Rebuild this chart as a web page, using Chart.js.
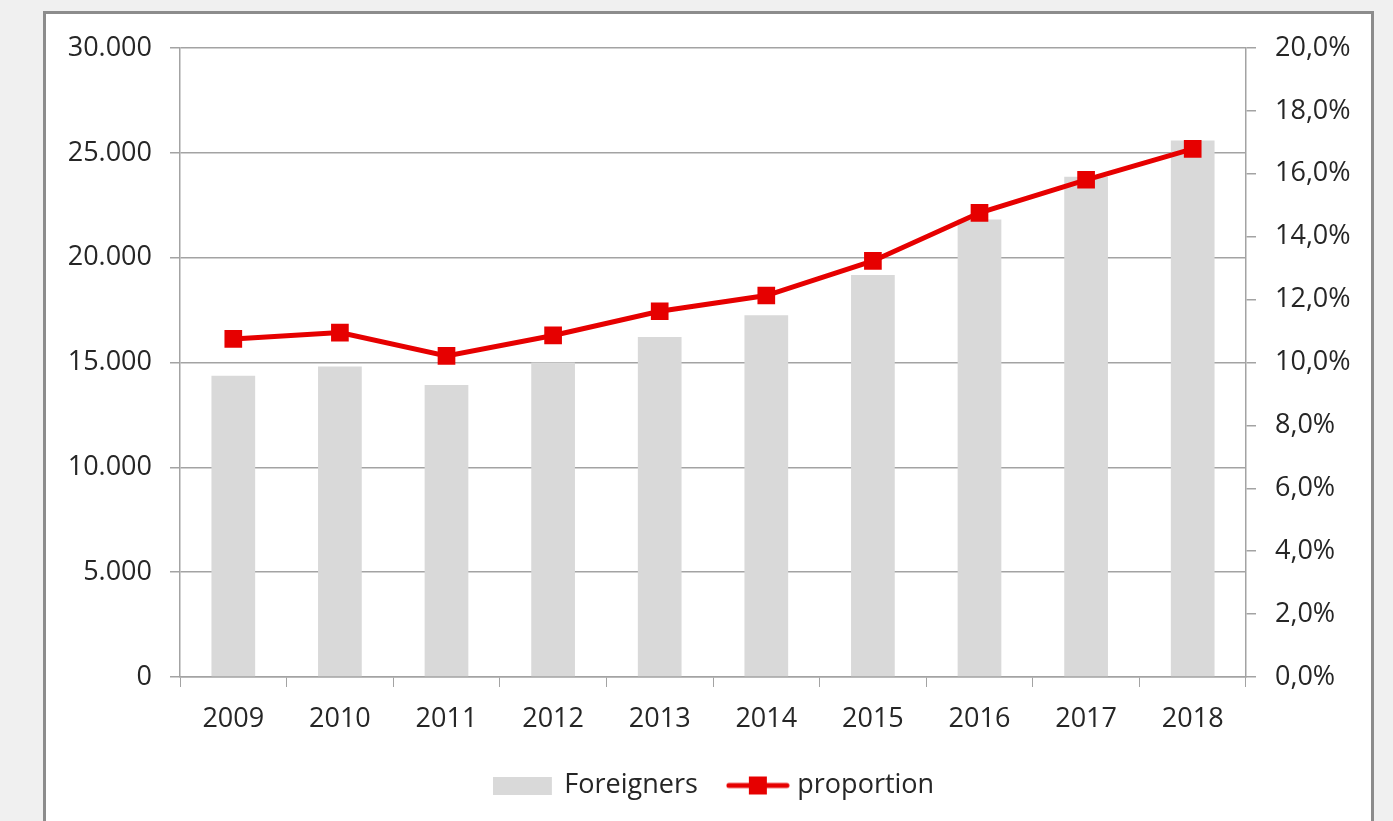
<!DOCTYPE html>
<html>
<head>
<meta charset="utf-8">
<script src="https://cdn.jsdelivr.net/npm/chart.js@4"></script>
<style>
    html, body { margin: 0; padding: 0; background: #f0f0f0; overflow: hidden; }
    #frame {
        position: absolute; left: 43px; top: 11px;
        width: 1325px; height: 840px;
        border: 3px solid #8c8c8c; background: #ffffff;
    }
    #chart-wrap { position: absolute; left: 0; top: 0; width: 1393px; height: 821px; }
</style>
</head>
<body>
<div id="frame"></div>
<div id="chart-wrap"><canvas id="foreigners-chart"></canvas></div>
<script>
const years = ["2009", "2010", "2011", "2012", "2013", "2014", "2015", "2016", "2017", "2018"];
const foreigners = [14370, 14810, 13930, 15000, 16220, 17250, 19170, 21820, 23860, 25590];
const proportion = [10.75, 10.95, 10.21, 10.86, 11.63, 12.13, 13.23, 14.76, 15.81, 16.79];   // percent

const grid_grey = "#a3a3a3";
const text_dark = "#262626";
const bar_grey = "#d9d9d9";
const line_red = "#e60000";

// small legend pictures, so the legend looks like the Excel one
function legendBox() {
    const c = document.createElement("canvas");
    c.width = 64; c.height = 18;
    const g = c.getContext("2d");
    g.fillStyle = bar_grey;
    g.fillRect(0, 0, 59, 18);
    return c;
}
function legendLine() {
    const c = document.createElement("canvas");
    c.width = 64; c.height = 20;
    const g = c.getContext("2d");
    g.strokeStyle = line_red;
    g.lineWidth = 5;
    g.lineCap = "round";
    g.beginPath(); g.moveTo(3, 10); g.lineTo(61, 10); g.stroke();
    g.fillStyle = line_red;
    g.fillRect(23, 1, 18, 18);
    return c;
}
const legend_pics = [legendBox(), legendLine()];

const config = {
    data: {
        labels: years,
        datasets: [
            {
                type: "bar",
                label: "Foreigners",
                data: foreigners,
                backgroundColor: bar_grey,
                barPercentage: 0.41,
                categoryPercentage: 1.0,
                yAxisID: "y",
                order: 2
            },
            {
                type: "line",
                label: "proportion",
                data: proportion,
                borderColor: line_red,
                backgroundColor: line_red,
                borderWidth: 5,
                pointStyle: "rect",
                pointRadius: 12.5,
                pointBorderWidth: 0,
                fill: false,
                tension: 0,
                yAxisID: "y1",
                order: 1
            }
        ]
    },
    options: {
        responsive: true,
        maintainAspectRatio: false,
        animation: false,
        layout: {
            padding: { left: 40, right: 0, top: 48, bottom: 12 }
        },
        plugins: {
            tooltip: { enabled: false },
            legend: {
                position: "bottom",
                labels: {
                    color: text_dark,
                    font: { family: "Open Sans", size: 27 },
                    usePointStyle: true,
                    pointStyleWidth: 52,
                    padding: 34,
                    sort: (a, b) => a.datasetIndex - b.datasetIndex,
                    generateLabels(chart) {
                        const items = Chart.defaults.plugins.legend.labels.generateLabels(chart);
                        items.forEach((it) => { it.pointStyle = legend_pics[it.datasetIndex]; });
                        return items;
                    }
                }
            }
        },
        scales: {
            x: {
                grid: {
                    display: true,
                    drawOnChartArea: false,
                    drawTicks: true,
                    tickLength: 10,
                    color: grid_grey
                },
                border: { color: grid_grey, width: 1.5 },
                ticks: {
                    color: text_dark,
                    font: { family: "Open Sans", size: 27 },
                    padding: 16,
                    maxRotation: 0
                },
                afterFit(scale) { scale.height = 61; }
            },
            y: {
                position: "left",
                min: 0,
                max: 30000,
                grid: { color: grid_grey, lineWidth: 1.5, tickLength: 10 },
                border: { color: grid_grey, width: 1.5 },
                ticks: {
                    stepSize: 5000,
                    color: text_dark,
                    font: { family: "Open Sans", size: 27 },
                    padding: 18,
                    callback: (v) => v.toLocaleString("de-DE")
                },
                afterFit(scale) { scale.width = 140; }
            },
            y1: {
                position: "right",
                min: 0,
                max: 20,
                grid: {
                    drawOnChartArea: false,
                    drawTicks: true,
                    tickLength: 10,
                    color: grid_grey,
                    lineWidth: 1.5
                },
                border: { color: grid_grey, width: 1.5 },
                ticks: {
                    stepSize: 2,
                    color: text_dark,
                    font: { family: "Open Sans", size: 27 },
                    padding: 19,
                    callback: (v) => v.toFixed(1).replace(".", ",") + "%"
                },
                afterFit(scale) { scale.width = 147; }
            }
        }
    }
};

const ctx = document.getElementById("foreigners-chart").getContext("2d");
new Chart(ctx, config);
</script>
</body>
</html>
